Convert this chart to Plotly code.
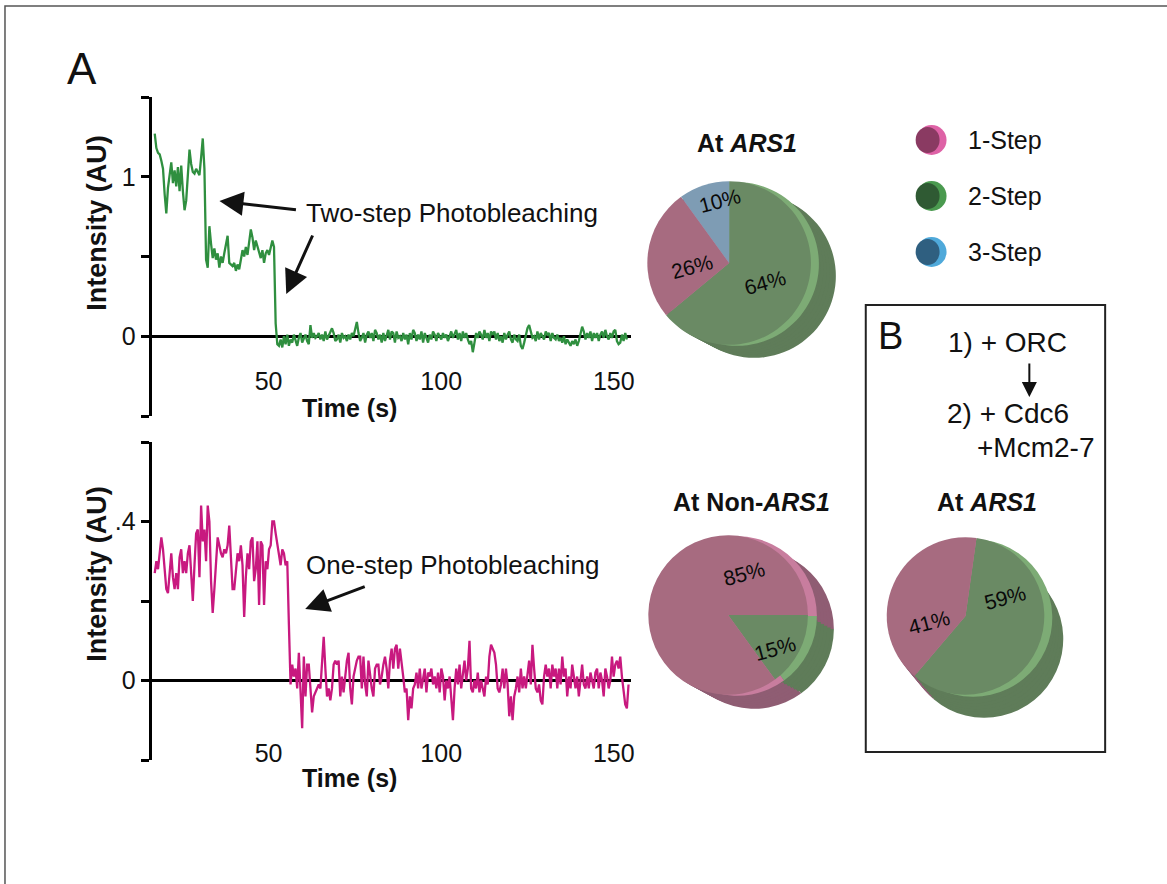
import numpy as np
import plotly.graph_objects as go

W, H = 1167, 884


def px(x):
    return x / W


def py(y):
    return 1 - y / H


# ---------------- data ----------------
t_start = 17.0   # s, first sample
dt = 0.48        # s, sampling interval

two_step_intensity = [
    1.27, 1.18, 1.15, 1.14, 1.10, 1.05, 0.89, 0.77, 0.93, 1.02, 1.09, 0.96, 1.04, 0.94, 1.06, 0.91,
    1.07, 0.91, 0.79, 0.85, 1.04, 1.17, 1.08, 1.03, 1.02, 1.05, 1.03, 1.01, 1.12, 1.24, 1.05, 0.48,
    0.43, 0.69, 0.58, 0.49, 0.55, 0.48, 0.52, 0.43, 0.50, 0.46, 0.52, 0.57, 0.63, 0.46, 0.45, 0.44,
    0.46, 0.41, 0.45, 0.42, 0.48, 0.54, 0.50, 0.56, 0.51, 0.60, 0.67, 0.62, 0.54, 0.60, 0.56, 0.53,
    0.49, 0.54, 0.46, 0.52, 0.54, 0.51, 0.56, 0.60, 0.56, 0.08, -0.05,
    -0.06, -0.02, -0.07, 0.00, -0.05, 0.01, -0.06, -0.02, -0.04, 0.01, -0.03, -0.06, -0.01, 0.02,
    -0.04, -0.02, 0.01, -0.03, -0.05,
    0.07, -0.01, 0.02, -0.01, 0.00, 0.02, -0.02, 0.01, -0.03, 0.03, -0.02, 0.00, 0.03, 0.05, 0.02,
    -0.03, -0.02, 0.01, -0.04, 0.02, -0.01, 0.00, -0.03, 0.01, -0.02, 0.02, 0.00, 0.04, 0.09, 0.02,
    -0.03, -0.01, 0.02, -0.04, 0.01, 0.03, -0.01, 0.02, -0.03, 0.04, 0.02, -0.02, 0.01, -0.04, 0.02,
    -0.03, 0.00, 0.04, -0.02, 0.03, 0.02, -0.04, 0.03, -0.01, 0.00, -0.03, 0.02, -0.02, 0.01, -0.05,
    0.02, -0.02, 0.04, 0.02, -0.03, 0.01, -0.02, 0.03, -0.04, 0.02, -0.01, -0.04, 0.01, -0.02, 0.03,
    0.01, -0.03, 0.02, 0.00, -0.02, 0.02, -0.01, 0.01, -0.03, 0.00, 0.03, -0.01, 0.02, 0.04, -0.02,
    0.02, -0.03, 0.03, -0.01, 0.02, -0.02, -0.05, -0.03, -0.10, -0.04, 0.02, -0.01, 0.03, 0.01, -0.02,
    0.04, -0.01, 0.02, -0.03, 0.03, 0.01, 0.03, -0.02, 0.02, -0.03, 0.00, -0.04, 0.02, -0.02, 0.01,
    0.03, -0.02, -0.04, 0.01, -0.02, -0.03, 0.01, -0.06, -0.08, -0.04, 0.01, 0.05, 0.07, 0.02, -0.01,
    0.00, -0.03, 0.03, -0.02, 0.02, 0.00, -0.02, 0.03, 0.01, 0.02, -0.03, 0.02, -0.01, -0.02, 0.01,
    -0.03, -0.01, -0.04, 0.00, -0.05, -0.02, -0.04, -0.06, -0.03, -0.05, -0.02, -0.06, -0.03, 0.02,
    0.06, 0.03, -0.02, 0.02, -0.01, 0.03, -0.03, 0.02, -0.01, 0.02, -0.03, 0.01, 0.03, -0.01, 0.04,
    0.00, -0.02, 0.02, -0.01, 0.03, 0.04, -0.03, -0.05, -0.04, 0.01, -0.03, 0.02, -0.02,
]

one_step_intensity = [
    0.27, 0.30, 0.28, 0.32, 0.36, 0.33, 0.27, 0.23, 0.22, 0.27, 0.32, 0.26, 0.23, 0.27, 0.23, 0.31,
    0.33, 0.27, 0.30, 0.27, 0.32, 0.34, 0.26, 0.20, 0.29, 0.37, 0.38, 0.26, 0.44, 0.35, 0.38, 0.30,
    0.44, 0.40, 0.25, 0.17, 0.23, 0.29, 0.36, 0.34, 0.32, 0.31, 0.33, 0.32, 0.34, 0.39, 0.32, 0.23,
    0.23, 0.28, 0.32, 0.30, 0.34, 0.29, 0.16, 0.26, 0.32, 0.28, 0.35, 0.36, 0.25, 0.28, 0.35, 0.19,
    0.35, 0.34, 0.19, 0.30, 0.28, 0.33, 0.34, 0.40, 0.40, 0.37, 0.34, 0.32, 0.29, 0.33, 0.32, 0.29,
    0.30, 0.14,
    -0.01, 0.04, 0.01, 0.03, -0.02, 0.07, -0.03, -0.12, 0.06, -0.04, 0.04, 0.04, -0.02, -0.08, -0.04,
    -0.03, -0.02, -0.01, -0.02, 0.04, 0.11, 0.03, -0.04, -0.02, -0.05, -0.02, 0.04, 0.05, 0.04, 0.05,
    -0.04, 0.01, -0.03, 0.01, 0.05, 0.07, -0.02, -0.06, 0.01, 0.03, 0.05, 0.06, 0.06, -0.02, 0.06,
    -0.01, -0.04, 0.05, 0.01, -0.02, -0.04, 0.03, 0.04, 0.04, -0.01, 0.01, 0.04, 0.06, 0.03, -0.02,
    0.05, 0.08, 0.03, 0.08, 0.09, 0.03, 0.08, 0.05, 0.01, -0.03, -0.02, -0.10, -0.04, -0.07, -0.02,
    -0.01, 0.02, -0.02, 0.03, -0.02, 0.01, 0.03, -0.03, 0.02, 0.01, 0.03, -0.01, 0.01, -0.02, 0.02,
    -0.03, 0.03, 0.01, -0.05, 0.00, -0.02, 0.01, -0.06, -0.10, -0.02, 0.03, -0.01, 0.04, -0.02, 0.01,
    0.05, 0.00, 0.03, 0.10, -0.02, -0.03, 0.00, -0.02, 0.02, -0.03, 0.00, -0.02, -0.04, 0.01, -0.01,
    0.06, 0.09, 0.08, 0.07, 0.04, -0.02, -0.03, -0.01, 0.03, -0.02, 0.03, -0.01, -0.09, -0.04, -0.10,
    -0.04, -0.02, 0.01, -0.03, 0.03, -0.02, 0.01, -0.02, 0.01, 0.05, -0.01, 0.09, 0.03, -0.02, -0.03,
    -0.01, -0.05, -0.06, 0.01, 0.04, 0.01, 0.03, -0.02, 0.04, 0.01, 0.03, -0.02, 0.03, -0.01, 0.06,
    0.01, 0.03, -0.04, 0.01, -0.02, 0.04, 0.01, -0.02, 0.01, -0.04, 0.00, 0.04, -0.01, -0.02, 0.01,
    -0.02, 0.02, 0.00, -0.02, 0.02, 0.03, -0.02, 0.02, 0.00, -0.04, 0.03, 0.01, -0.02, 0.00, 0.06,
    0.01, 0.04, 0.05, 0.03, 0.06, 0.01, -0.02, -0.06, -0.07, -0.01,
]

x_ticks = [50, 100, 150]
top_y_ticks = [-0.5, 0, 0.5, 1, 1.5]
top_y_ticktext = ["", "0", "", "1", ""]
bot_y_ticks = [-0.2, 0, 0.2, 0.4, 0.6]
bot_y_ticktext = ["", "0", "", ".4", ""]

ars1_labels = ["2-Step", "1-Step", "3-Step"]
ars1_values = [64, 26, 10]
non_ars1_labels = ["2-Step", "1-Step"]
non_ars1_values = [15, 85]
b_ars1_labels = ["2-Step", "1-Step"]
b_ars1_values = [59, 41]

legend_labels = ["1-Step", "2-Step", "3-Step"]

# ---------------- styles ----------------
FONT = "Liberation Sans, Arial, Helvetica, sans-serif"
TXT = "#111111"
GREEN_LINE = "#2f8f3f"
PINK_LINE = "#c8197f"

face = {"1-Step": "#a76b80", "2-Step": "#6a8a64", "3-Step": "#7e9cb4"}
rim_light = {"1-Step": "#c87d9e", "2-Step": "#7dab75", "3-Step": "#92c3e2"}
side_col = {"1-Step": "#8f5d73", "2-Step": "#5f7c59", "3-Step": "#66869e"}
legend_dark = {"1-Step": "#8a3a62", "2-Step": "#2f5a33", "3-Step": "#2f5f80"}
legend_bright = {"1-Step": "#de62a6", "2-Step": "#4a9a4f", "3-Step": "#4fa9da"}

fig = go.Figure()

# ---------------- traces ----------------
t_top = t_start + dt * np.arange(len(two_step_intensity))
t_bot = t_start + dt * np.arange(len(one_step_intensity))

fig.add_trace(go.Scatter(x=t_top, y=two_step_intensity, mode="lines",
                         line=dict(color=GREEN_LINE, width=2.3), xaxis="x", yaxis="y",
                         showlegend=False))
fig.add_trace(go.Scatter(x=t_bot, y=one_step_intensity, mode="lines",
                         line=dict(color=PINK_LINE, width=2.3), xaxis="x2", yaxis="y2",
                         showlegend=False))


def add_pie(labels, values, cx, cy, d, rot, depth, rim):
    """Pseudo-3D disc: stacked offset copies form the side, then a light rim, then the face."""
    dx, dy = depth
    n = 8
    layers = [((dx * k / n, dy * k / n), side_col) for k in range(n, 0, -1)]
    layers.append((rim, rim_light))
    layers.append(((0, 0), face))
    for (ox, oy), cmap in layers:
        fig.add_trace(go.Pie(
            labels=labels, values=values, sort=False, direction="clockwise", rotation=rot,
            domain=dict(x=[px(cx + ox - d / 2), px(cx + ox + d / 2)],
                        y=[py(cy + oy + d / 2), py(cy + oy - d / 2)]),
            marker=dict(colors=[cmap[l] for l in labels], line=dict(width=0)),
            textinfo="none", hoverinfo="label+percent", showlegend=False))


add_pie(ars1_labels, ars1_values, 731, 263, 164, 0, (25, 13), (8, 1))
add_pie(non_ars1_labels, non_ars1_values, 730, 615, 160, 90, (26, 14), (9, 1))
add_pie(b_ars1_labels, b_ars1_values, 968, 616, 158, 8, (19, 23), (8, 2))

# ---------------- axes ----------------
x_common = dict(domain=[px(152), px(633)], range=[16.1, 155.1], anchor="free",
                showline=False, showgrid=False, zeroline=False, ticks="",
                tickvals=x_ticks, tickfont=dict(size=25, color=TXT, family=FONT))
y_common = dict(showline=True, linewidth=3, linecolor="black", ticks="outside",
                ticklen=8, tickwidth=3, tickcolor="black", showgrid=False,
                zeroline=True, zerolinecolor="black", zerolinewidth=3,
                tickfont=dict(size=25, color=TXT, family=FONT))

fig.update_layout(
    xaxis=dict(x_common, position=py(364)),
    yaxis=dict(y_common, domain=[py(416), py(97)], range=[-0.5, 1.5], anchor="x",
               tickvals=top_y_ticks, ticktext=top_y_ticktext),
    xaxis2=dict(x_common, position=py(736)),
    yaxis2=dict(y_common, domain=[py(760), py(442)], range=[-0.2, 0.6], anchor="x2",
                tickvals=bot_y_ticks, ticktext=bot_y_ticktext),
)


# ---------------- annotations ----------------
def ann(text, x, y, size, xanchor="center", angle=0, color=TXT):
    fig.add_annotation(text=text, x=px(x), y=py(y), xref="paper", yref="paper",
                       showarrow=False, xanchor=xanchor, yanchor="middle", textangle=angle,
                       font=dict(size=size, color=color, family=FONT))


ann("A", 82, 69, 44)
ann("B", 893, 336, 38)
ann("<b>Intensity (AU)</b>", 97, 223, 27, angle=-90)
ann("<b>Intensity (AU)</b>", 97, 574, 27, angle=-90)
ann("<b>Time (s)</b>", 350, 408, 25)
ann("<b>Time (s)</b>", 350, 778, 25)
ann("Two-step Photobleaching", 453, 213, 26)
ann("One-step Photobleaching", 454, 565, 26)
ann("<b>At <i>ARS1</i></b>", 749, 143, 25)
ann("<b>At Non-<i>ARS1</i></b>", 753, 502, 25)
ann("<b>At <i>ARS1</i></b>", 990, 502, 25)
ann("1) + ORC", 948, 343, 28, xanchor="left")
ann("2) + Cdc6", 947, 413, 28, xanchor="left")
ann("+Mcm2-7", 978, 447, 28, xanchor="left")

# percent labels on the pies
pct_pos = {
    "ars1": [(767, 282), (694, 266), (722, 201)],
    "non": [(777, 648), (746, 573)],
    "b": [(1008, 597), (931, 622)],
}
for key, vals in [("ars1", ars1_values), ("non", non_ars1_values), ("b", b_ars1_values)]:
    for v, (x, y) in zip(vals, pct_pos[key]):
        ann(f"{v}%", x, y, 21, angle=-15, color="#0a0a0a")

# legend
legend_y = [140, 196, 252]
for lab, ly in zip(legend_labels, legend_y):
    fig.add_shape(type="circle", xref="paper", yref="paper",
                  x0=px(919), x1=px(949), y0=py(ly + 15), y1=py(ly - 15),
                  fillcolor=legend_bright[lab], line=dict(width=0))
    fig.add_shape(type="circle", xref="paper", yref="paper",
                  x0=px(918), x1=px(942), y0=py(ly + 13), y1=py(ly - 13),
                  fillcolor=legend_dark[lab], line=dict(width=0))
    ann(lab, 968, ly, 25, xanchor="left")


# arrows
def arrow(hx, hy, tx, ty, width=3, size=1.6):
    fig.add_annotation(text="", x=px(hx), y=py(hy), xref="paper", yref="paper",
                       ax=tx - hx, ay=ty - hy, axref="pixel", ayref="pixel",
                       showarrow=True, arrowhead=2, arrowsize=size, arrowwidth=width,
                       arrowcolor="#111111", standoff=0)


arrow(220, 201, 298, 210)
arrow(287, 294, 314, 234)
arrow(306, 609, 367, 586)
arrow(1032, 397, 1032, 362, width=2, size=1.5)

# frames
fig.add_shape(type="rect", xref="paper", yref="paper", x0=px(868), x1=px(1108),
              y0=py(752), y1=py(305), line=dict(color="#222222", width=2))
fig.add_shape(type="rect", xref="paper", yref="paper", x0=px(5), x1=px(1200),
              y0=py(900), y1=py(6), line=dict(color="#555555", width=1.5))

fig.update_layout(
    width=W, height=H, margin=dict(l=0, r=0, t=0, b=0),
    paper_bgcolor="white", plot_bgcolor="white",
    font=dict(family=FONT, color=TXT), showlegend=False,
)

fig.write_html("out.html")
